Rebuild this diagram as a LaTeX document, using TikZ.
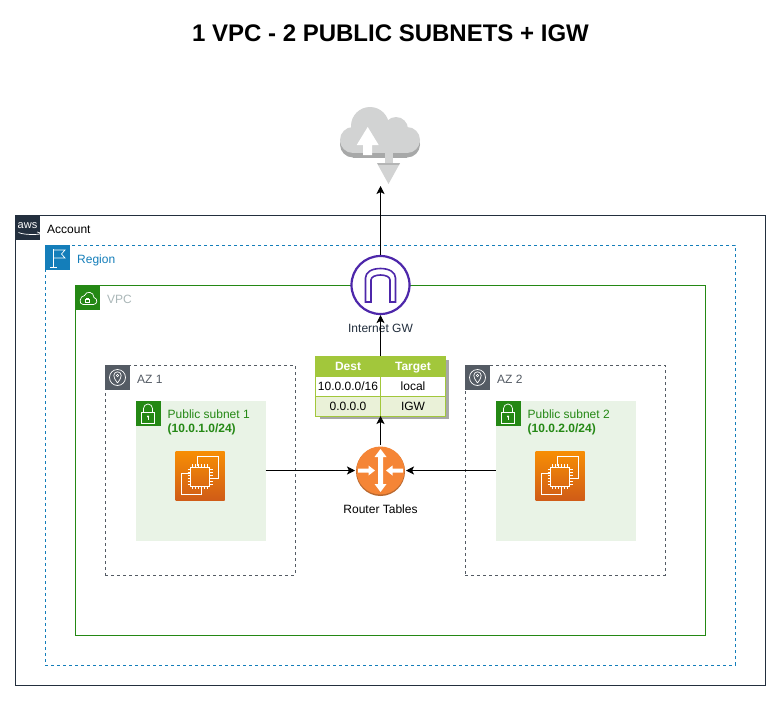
\documentclass[tikz,border=0pt]{standalone}
\usepackage{fontspec}
\setmainfont{Liberation Sans}
\usetikzlibrary{arrows.meta}
\usetikzlibrary{positioning}
\definecolor{awsdark}{HTML}{232F3E}
\definecolor{regionblue}{HTML}{147EBA}
\definecolor{vpcgreen}{HTML}{248814}
\definecolor{vpcgray}{HTML}{AAB7B8}
\definecolor{azgray}{HTML}{545B64}
\definecolor{subnetfill}{HTML}{E9F3E6}
\definecolor{igwpurple}{HTML}{4D27AA}
\definecolor{routerorange}{HTML}{F58536}
\definecolor{routershade}{HTML}{B9682F}
\definecolor{tablegreen}{HTML}{A2C73B}
\definecolor{tablerow}{HTML}{EAF1D8}
\definecolor{cloudgray}{HTML}{D2D3D3}
\definecolor{cloudshade}{HTML}{A7A8A8}
\definecolor{ectop}{HTML}{F78E04}
\definecolor{ecbottom}{HTML}{D05C17}

\begin{document}
\begin{tikzpicture}[x=1pt,y=-1pt,font=\fontsize{12}{14}\selectfont]
		\tikzset{
			groupbox/.style={draw,outer sep=0pt,inner sep=0pt,line width=.8pt},
			cornericon/.style={minimum size=25pt,inner sep=0pt,outer sep=0pt},
			grouplabel/.style={inner sep=0pt,text height=12pt,text depth=.4pt,right=7pt of #1.east},
			tablecell/.style={draw=tablegreen,line width=.8pt,inner sep=0pt,outer sep=0pt,minimum height=20pt,minimum width=65pt,text height=8.6pt,text depth=0pt,font=\fontsize{12}{14}\selectfont},
			tablehead/.style={tablecell,fill=tablegreen,text=white,font=\fontsize{12}{14}\selectfont\bfseries},
			flow/.style={-{Stealth[length=8pt,width=8pt,inset=2pt]},line width=.8pt,black},
			icon/.style={draw=white,line width=.7pt},
			pics/ecchip/.style={code={
				\draw[icon] (22.3,15) -- (22.3,5.3) -- (43,5.3) -- (43,27) -- (35,27);
				\draw[icon] (14,22) -- (5.7,22) -- (5.7,43.7) -- (25.7,43.7) -- (25.7,35.3);
				\draw[icon,line width=.9pt] (15,16) rectangle (34,35);
				\foreach \p in {17,20,23,26,29,32} {
					\draw[icon,line width=.6pt] (\p,13) -- (\p,16) (\p,35) -- (\p,38);
					\draw[icon,line width=.6pt] (12,\p+1) -- (15,\p+1) (34,\p+1) -- (37,\p+1);
				}
			}},
			pics/sublock/.style={code={
				\draw[icon] (6,11.7) rectangle (19,23);
				\draw[icon] (8,11.7) -- (8,8) arc[start angle=180,end angle=360,radius=4.5] -- (17,11.7);
				\fill[white] (12.5,16) circle (1.1);
				\draw[white,line width=.5pt] (12.5,16) -- (12.5,19.5);
			}},
			pics/azpin/.style={code={
				\draw[icon] (12.5,12.5) circle (8);
				\draw[icon] (12.5,18) .. controls (10,14.5) and (8.8,12.5) .. (8.8,10.5) arc[start angle=180,end angle=360,radius=3.7] .. controls (16.2,12.5) and (15,14.5) .. (12.5,18);
				\draw[icon,line width=.5pt] (12.5,10.5) circle (1.2);
			}},
			pics/regionflag/.style={code={
				\draw[icon] (8.3,4) -- (8.3,22) (5,22) -- (12,22);
				\draw[icon] (8.3,5) -- (20,5) -- (16.5,9) -- (20,13) -- (8.3,13);
			}},
			pics/vpccloud/.style={code={
				\draw[icon] (8,19.5) -- (18.5,19.5) .. controls (22,19.5) and (23.5,14) .. (19,12.5) .. controls (19,6.5) and (11,5.5) .. (9.5,10.5) .. controls (4.5,11) and (3.5,19.5) .. (8,19.5);
				\draw[icon,line width=.5pt] (10.5,14.5) rectangle (14.5,17.5);
				\draw[icon,line width=.5pt] (11.3,14.5) -- (11.3,13) -- (13.7,13) -- (13.7,14.5);
			}}
		}
		\useasboundingbox (0,0) rectangle (781,701);
		\fill[white] (0,0) rectangle (781,701);
		\node[font=\fontsize{24}{28}\selectfont\bfseries] (title) at (390.5,33) {1 VPC - 2 PUBLIC SUBNETS + IGW};

		% nested groups
		\node[groupbox,draw=awsdark,minimum width=750pt,minimum height=470pt] (account) at (390,450) {};
		\node[groupbox,draw=regionblue,dashed,minimum width=690pt,minimum height=420pt] (region) at (390,455) {};
		\node[groupbox,draw=vpcgreen,minimum width=630pt,minimum height=350pt] (vpc) at (390,460) {};
		\node[groupbox,draw=azgray,dashed,minimum width=190pt,minimum height=210pt] (az1) at (200,470) {};
		\node[groupbox,draw=azgray,dashed,minimum width=200pt,minimum height=210pt] (az2) at (565,470) {};
		\node[outer sep=0pt,inner sep=0pt,fill=subnetfill,minimum width=130pt,minimum height=140pt] (subnet1) at (200.5,470.5) {};
		\node[outer sep=0pt,inner sep=0pt,fill=subnetfill,minimum width=140pt,minimum height=140pt] (subnet2) at (565.5,470.5) {};

		% corner icons
		\node[cornericon,fill=awsdark,below right=0pt and 0pt of account.north west] (awsicon) {};
		\node[font=\fontsize{11}{12}\selectfont,text=white,inner sep=0pt] (awstext) at ([yshift=1.5pt]awsicon.center) {aws};
		\draw[white,line width=.7pt] ([shift={(-9,5)}]awsicon.center) .. controls +(5,3) and +(13,3) .. ([shift={(9.5,4.5)}]awsicon.center);
		\node[grouplabel=awsicon,text=black] (accountlabel) {Account};

		\node[cornericon,fill=regionblue,below right=0pt and 0pt of region.north west] (regionicon) {};
		\pic at (regionicon.north west) {regionflag};
		\node[grouplabel=regionicon,text=regionblue] (regionlabel) {Region};

		\node[cornericon,fill=vpcgreen,below right=0pt and 0pt of vpc.north west] (vpcicon) {};
		\pic at (vpcicon.north west) {vpccloud};
		\node[grouplabel=vpcicon,text=vpcgray] (vpclabel) {VPC};

		\node[cornericon,fill=azgray,below right=0pt and 0pt of az1.north west] (az1icon) {};
		\pic at (az1icon.north west) {azpin};
		\node[grouplabel=az1icon,text=azgray] (az1label) {AZ 1};
		\node[cornericon,fill=azgray,below right=0pt and 0pt of az2.north west] (az2icon) {};
		\pic at (az2icon.north west) {azpin};
		\node[grouplabel=az2icon,text=azgray] (az2label) {AZ 2};

		\node[cornericon,fill=vpcgreen,below right=0pt and 0pt of subnet1.north west] (sub1icon) {};
		\pic at (sub1icon.north west) {sublock};
		\node[align=left,inner sep=0pt,text=vpcgreen,anchor=north west,font=\fontsize{12}{14}\selectfont] (sub1label) at ([shift={(7,9)}]sub1icon.north east) {Public subnet 1\\\textbf{(10.0.1.0/24)}};
		\node[cornericon,fill=vpcgreen,below right=0pt and 0pt of subnet2.north west] (sub2icon) {};
		\pic at (sub2icon.north west) {sublock};
		\node[align=left,inner sep=0pt,text=vpcgreen,anchor=north west,font=\fontsize{12}{14}\selectfont] (sub2label) at ([shift={(7,9)}]sub2icon.north east) {Public subnet 2\\\textbf{(10.0.2.0/24)}};

		% instances
		\node[minimum size=49pt,inner sep=0pt,outer sep=0pt,top color=ectop,bottom color=ecbottom] (ec1) at (200,475.5) {};
		\pic at (ec1.north west) {ecchip};
		\node[minimum size=49pt,inner sep=0pt,outer sep=0pt,top color=ectop,bottom color=ecbottom] (ec2) at (560,475.5) {};
		\pic at (ec2.north west) {ecchip};

		% route table
		\fill[cloudshade] (320,360) rectangle (449,419);
		\node[tablehead] (destcell) at (348,366) {Dest};
		\node[tablehead,right=0pt of destcell] (targetcell) {Target};
		\node[tablecell,fill=white,below=0pt of destcell] (destone) {10.0.0.0/16};
		\node[tablecell,fill=white,below=0pt of targetcell] (targetone) {local};
		\node[tablecell,fill=tablerow,below=0pt of destone] (desttwo) {0.0.0.0};
		\node[tablecell,fill=tablerow,below=0pt of targetone] (targettwo) {IGW};

		% router
		\fill[routershade] (380.5,471.5) circle (24.5);
		\node[circle,fill=routerorange,minimum size=48pt,inner sep=0pt,outer sep=1.5pt] (router) at (380.5,470.5) {};
		\node[below=8.5pt of router,inner sep=0pt] (routerlabel) {Router Tables};
		\fill[white] (380.5,449) -- (386.5,457) -- (383,457) -- (383,484) -- (386.5,484) -- (380.5,492) -- (374.5,484) -- (378,484) -- (378,457) -- (374.5,457) -- cycle;
		\fill[white] (375,470.5) -- (368.5,475.5) -- (368.5,472.5) -- (358,472.5) -- (358,468.5) -- (368.5,468.5) -- (368.5,465.5) -- cycle;
		\fill[white] (386,470.5) -- (392.5,475.5) -- (392.5,472.5) -- (403,472.5) -- (403,468.5) -- (392.5,468.5) -- (392.5,465.5) -- cycle;

		% internet gateway
		\node[circle,draw=igwpurple,line width=2.2pt,fill=white,minimum size=58pt,inner sep=0pt] (igw) at (380.5,285) {};
		\draw[igwpurple,line width=1.6pt] (365.5,302) -- (365.5,278) .. controls (365.5,272) and (372,268.5) .. (380.5,268.5) .. controls (389,268.5) and (395.5,272) .. (395.5,278) -- (395.5,302) -- (390,302) -- (390,280) .. controls (390,277) and (386,275) .. (380.5,275) .. controls (375,275) and (371,277) .. (371,280) -- (371,302) -- cycle;
		\node[below=9pt of igw,inner sep=0pt,text=awsdark] (igwlabel) {Internet GW};

		% cloud
		\fill[cloudshade] (353,144.5) circle (13);
		\fill[cloudshade] (407,144.5) circle (13);
		\fill[cloudshade] (353,140) rectangle (407,157.5);
		\fill[cloudgray] (353,140) circle (13);
		\fill[cloudgray] (370,126) circle (19);
		\fill[cloudgray] (396,129) circle (12);
		\fill[cloudgray] (407,140) circle (13);
		\fill[cloudgray] (353,130) rectangle (407,153);
		\fill[white] (367.7,127) -- (378.7,145) -- (372,145) -- (372,155) -- (363,155) -- (363,145) -- (356.7,145) -- cycle;
		\fill[cloudgray] (385,150) rectangle (393,163);
		\fill[cloudshade!70!cloudgray] (377,163) -- (400,163) -- (399,165) -- (378,165) -- cycle;
		\fill[cloudgray] (378,165) -- (399,165) -- (388.5,184) -- cycle;
		\coordinate (cloudtip) at (380.5,186);

		% connectors
		\draw[flow] (subnet1.east) -- (router.west);
		\draw[flow] (subnet2.west) -- (router.east);
		\draw[flow] (router.north) -- (desttwo.south east);
		\draw[flow] (destcell.north east) -- (igw.south);
		\draw[flow] (igw.north) -- (cloudtip);
	\end{tikzpicture}
\end{document}
